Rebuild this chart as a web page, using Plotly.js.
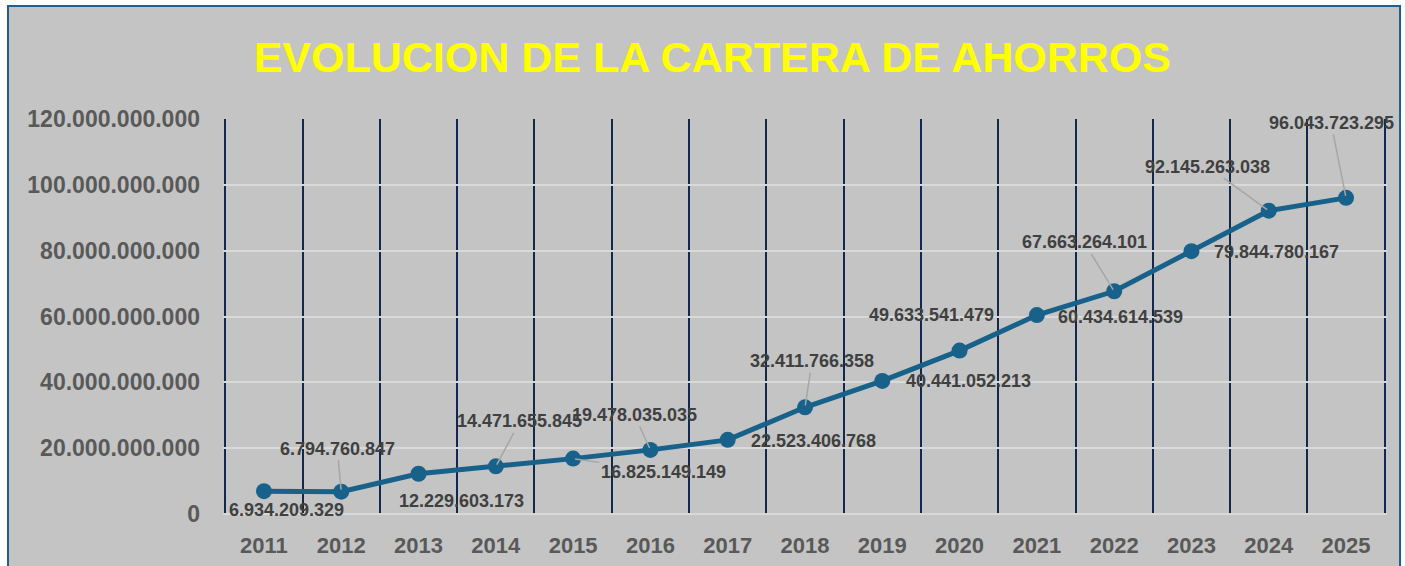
<!DOCTYPE html>
<html>
<head>
<meta charset="utf-8">
<script src="https://cdn.plot.ly/plotly-3.0.1.min.js"></script>
<style>
  html, body { margin: 0; padding: 0; background: #ffffff; }
  #chart { width: 1405px; height: 566px; }
</style>
</head>
<body>
<div id="chart"></div>
<script>
// yearly savings portfolio balance
const years = [2011, 2012, 2013, 2014, 2015, 2016, 2017, 2018, 2019, 2020, 2021, 2022, 2023, 2024, 2025];
const balances = [
  6934209329, 6794760847, 12229603173, 14471655845, 16825149149,
  19478035035, 22523406768, 32411766358, 40441052213, 49633541479,
  60434614539, 67663264101, 79844780167, 92145263038, 96043723295
];
const yTicks = [0, 20000000000, 40000000000, 60000000000, 80000000000, 100000000000, 120000000000];

// label offsets in px, and whether a leader line is drawn
const labelOffsets = [
  [23, 19, false], [-4, -43, true], [43, 27, false], [24, -45, true], [90, 13, true],
  [-16, -35, true], [86, 1, false], [7, -46, true], [86, 0, false], [-28, -36, false],
  [84, 2, false], [-30, -49, true], [85, 1, false], [-61, -44, true], [-15, -75, true]
];

function fmt(n) {
  return String(n).replace(/\B(?=(\d{3})+(?!\d))/g, '.');
}

const lineColor = '#17618a';
const font = 'Liberation Sans, Arial, sans-serif';

const trace = {
  x: years,
  y: balances,
  mode: 'lines+markers',
  type: 'scatter',
  line: { color: lineColor, width: 5 },
  marker: { color: lineColor, size: 16 },
  hoverinfo: 'x+y'
};

const annotations = years.map((yr, i) => {
  const [dx, dy, leader] = labelOffsets[i];
  const a = {
    x: yr,
    y: balances[i],
    text: '<b>' + fmt(balances[i]) + '</b>',
    font: { family: font, size: 18, color: '#404040' }
  };
  if (leader) {
    Object.assign(a, {
      showarrow: true, arrowhead: 0, arrowwidth: 1.5, arrowcolor: '#a6a6a6',
      ax: dx, ay: dy, standoff: 2
    });
  } else {
    Object.assign(a, { showarrow: false, xshift: dx, yshift: -dy });
  }
  return a;
});

const layout = {
  width: 1405,
  height: 566,
  paper_bgcolor: '#ffffff',
  plot_bgcolor: 'rgba(0,0,0,0)',
  margin: { l: 223, r: 18, t: 119, b: 52 },
  showlegend: false,
  title: {
    text: '<b>EVOLUCION DE LA CARTERA DE AHORROS</b>',
    font: { family: font, size: 43, color: '#ffff00' },
    x: 0.507, xref: 'container',
    y: 0.899, yref: 'container', yanchor: 'middle'
  },
  xaxis: {
    range: [2010.47, 2025.53],
    tickvals: years,
    ticktext: years.map(y => '<b>' + y + '</b>'),
    tickfont: { family: font, size: 22, color: '#595959' },
    showgrid: false,
    zeroline: false,
    showline: false,
    ticks: '',
    ticklabelstandoff: 16,
    minor: { tick0: 2010.5, dtick: 1, showgrid: true, gridcolor: '#13294b', gridwidth: 2 },
    fixedrange: true
  },
  yaxis: {
    range: [0, 120000000000],
    tickvals: yTicks,
    ticktext: yTicks.map(v => '<b>' + fmt(v) + '</b>'),
    tickfont: { family: font, size: 23, color: '#595959' },
    showgrid: true,
    gridcolor: '#d9d9d9',
    gridwidth: 2,
    zeroline: true,
    zerolinecolor: '#d9d9d9',
    zerolinewidth: 2,
    ticks: '',
    ticklabelstandoff: 22,
    fixedrange: true
  },
  shapes: [{
    type: 'rect', xref: 'paper', yref: 'paper', layer: 'below',
    x0: -0.1847, x1: 1.0112, y0: -0.16, y1: 1.286,
    fillcolor: '#c4c4c4',
    line: { color: '#1f5f8b', width: 2 }
  }],
  annotations: annotations
};

Plotly.newPlot('chart', [trace], layout, { displayModeBar: false, staticPlot: true });
</script>
</body>
</html>
